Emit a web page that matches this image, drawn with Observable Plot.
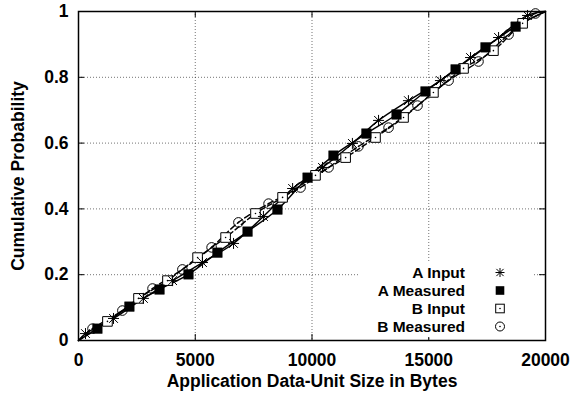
<!DOCTYPE html>
<html>
<head>
<meta charset="utf-8">
<script src="https://cdn.jsdelivr.net/npm/d3@7"></script>
<script src="https://cdn.jsdelivr.net/npm/@observablehq/plot@0.6"></script>
<style>
  html, body { margin: 0; padding: 0; background: #fff; }
  #chart { width: 570px; height: 398px; }
  #chart svg { font-family: "Liberation Sans", Arial, Helvetica, sans-serif; font-weight: bold; }
  #chart svg text { font-weight: bold; }
</style>
</head>
<body>
<div id="chart"></div>
<script>
// ---- data ----
const seriesNames = ["A Input", "A Measured", "B Input", "B Measured"];
const xTicks = [0, 5000, 10000, 15000, 20000];
const yTicks = [0, 0.2, 0.4, 0.6, 0.8, 1];
const xLabel = "Application Data-Unit Size in Bytes";
const yLabel = "Cumulative Probability";

const aInputX = [300, 1500, 2780, 4030, 5310, 6640, 7920, 9170, 10450, 11730, 12850, 14130, 15500, 16790, 17990, 19230];
const aInputY = [0.021, 0.067, 0.128, 0.182, 0.237, 0.295, 0.377, 0.462, 0.526, 0.599, 0.669, 0.729, 0.790, 0.860, 0.921, 0.988];

const aMeasX = [810, 2180, 3470, 4710, 5950, 7240, 8520, 9810, 10920, 12330, 13620, 14860, 16150, 17430, 18720];
const aMeasY = [0.036, 0.103, 0.155, 0.201, 0.267, 0.331, 0.398, 0.495, 0.562, 0.629, 0.687, 0.757, 0.824, 0.891, 0.954];

const bInputX = [1240, 2570, 3810, 5100, 6300, 7580, 8740, 10150, 11440, 12720, 13920, 15200, 16490, 17770, 19020];
const bInputY = [0.058, 0.128, 0.182, 0.252, 0.313, 0.386, 0.435, 0.502, 0.556, 0.617, 0.678, 0.754, 0.827, 0.881, 0.964];

const bMeasX = [600, 1880, 3170, 4450, 5700, 6850, 8140, 9510, 10710, 11990, 13280, 14520, 15850, 17130, 18420, 19570];
const bMeasY = [0.036, 0.091, 0.158, 0.216, 0.283, 0.359, 0.416, 0.465, 0.526, 0.590, 0.647, 0.714, 0.790, 0.848, 0.930, 0.994];

// ---- build tables ----
const seriesXY = [[aInputX, aInputY], [aMeasX, aMeasY], [bInputX, bInputY], [bMeasX, bMeasY]];
const points = [];
const lines = [];
seriesNames.forEach((name, i) => {
  const [xs, ys] = seriesXY[i];
  lines.push({series: name, x: 0, y: 0});
  xs.forEach((x, j) => {
    points.push({series: name, x, y: ys[j]});
    lines.push({series: name, x, y: ys[j]});
  });
  lines.push({series: name, x: 20000, y: 1});
});

// ---- custom gnuplot-like symbols ----
const asterisk = {
  draw(ctx, size) {
    const r = Math.sqrt(size / Math.PI);
    ctx.moveTo(-r, 0); ctx.lineTo(r, 0);
    ctx.moveTo(0, -r); ctx.lineTo(0, r);
    const d = r * 0.8;
    ctx.moveTo(-d, -d); ctx.lineTo(d, d);
    ctx.moveTo(-d, d); ctx.lineTo(d, -d);
  }
};
const square = {
  draw(ctx, size) {
    const r = Math.sqrt(size / Math.PI);
    ctx.rect(-r, -r, 2 * r, 2 * r);
  }
};
const circle = {
  draw(ctx, size) {
    const r = Math.sqrt(size / Math.PI);
    ctx.moveTo(r, 0);
    ctx.arc(0, 0, r, 0, 2 * Math.PI);
  }
};

const lineStyle = {
  "A Input": null,
  "A Measured": null,
  "B Input": "5,3",
  "B Measured": "6,3"
};

const xTickLen = 20000 * 6 / 467;
const yTickLen = 6 / 329;
const fs = 17.5;
const legendFs = 15.5;

const marks = [
  Plot.gridX(xTicks.slice(1, -1), {stroke: "#000", strokeOpacity: 0.55, strokeDasharray: "1,2", strokeWidth: 1}),
  Plot.gridY(yTicks.slice(1, -1), {stroke: "#000", strokeOpacity: 0.55, strokeDasharray: "1,2", strokeWidth: 1}),
  // inward ticks (bottom/top, left/right)
  Plot.ruleX(xTicks, {y1: 0, y2: yTickLen, stroke: "#000"}),
  Plot.ruleX(xTicks, {y1: 1 - yTickLen, y2: 1, stroke: "#000"}),
  Plot.ruleY(yTicks, {x1: 0, x2: xTickLen, stroke: "#000"}),
  Plot.ruleY(yTicks, {x1: 20000 - xTickLen, x2: 20000, stroke: "#000"}),
  Plot.axisX(xTicks, {tickSize: 0, tickPadding: 13, fontSize: fs, tickFormat: d => String(d), label: null}),
  Plot.axisY(yTicks, {tickSize: 0, tickPadding: 10, fontSize: fs, tickFormat: d => String(d), label: null}),
  Plot.text([xLabel], {frameAnchor: "bottom", dy: 46, fontSize: fs, textAnchor: "middle", text: d => d}),
  Plot.text([yLabel], {frameAnchor: "left", dx: -60, rotate: -90, fontSize: fs, textAnchor: "middle", text: d => d})
];

seriesNames.forEach(name => {
  marks.push(Plot.line(lines.filter(d => d.series === name), {
    x: "x", y: "y", curve: "catmull-rom", stroke: "#000", strokeWidth: 1.4,
    strokeDasharray: lineStyle[name]
  }));
});

const pA = points.filter(d => d.series === "A Input");
const pAM = points.filter(d => d.series === "A Measured");
const pB = points.filter(d => d.series === "B Input");
const pBM = points.filter(d => d.series === "B Measured");

marks.push(
  Plot.dot(pB, {x: "x", y: "y", symbol: square, r: 4.8, fill: "#fff", stroke: "#000", strokeWidth: 1}),
  Plot.dot(pB, {x: "x", y: "y", r: 0.8, fill: "#000", stroke: "none"}),
  Plot.dot(pBM, {x: "x", y: "y", symbol: circle, r: 4.8, fill: "#fff", fillOpacity: 0, stroke: "#000", strokeWidth: 1}),
  Plot.dot(pBM, {x: "x", y: "y", r: 0.8, fill: "#000", stroke: "none"}),
  Plot.dot(pAM, {x: "x", y: "y", symbol: square, r: 4.8, fill: "#000", stroke: "#000", strokeWidth: 0.5}),
  Plot.dot(pA, {x: "x", y: "y", symbol: asterisk, r: 5.5, fill: "none", stroke: "#000", strokeWidth: 1}),
  Plot.frame({stroke: "#000", strokeWidth: 1.5})
);

const svg = Plot.plot({
  width: 570,
  height: 398,
  marginLeft: 78,
  marginRight: 25,
  marginTop: 11,
  marginBottom: 58,
  x: {domain: [0, 20000], axis: null},
  y: {domain: [0, 1], axis: null},
  style: {background: "#fff", color: "#000", fontFamily: "'Liberation Sans', Arial, sans-serif"},
  marks
});

// ---- legend (inside plot, bottom right, white box) ----
const s = d3.select(svg);
const lg = s.append("g").attr("class", "legend");
lg.append("rect").attr("x", 358).attr("y", 263).attr("width", 174).attr("height", 74).attr("fill", "#fff");
const rowY = [272.5, 290.5, 308.5, 326.5];
const symX = 500;
seriesNames.forEach((name, i) => {
  lg.append("text").attr("x", 465).attr("y", rowY[i]).attr("dy", "0.36em")
    .attr("text-anchor", "end").attr("font-size", legendFs).attr("font-weight", "bold").attr("fill", "#000").text(name);
});
// symbols
const a = 4.5;
lg.append("path").attr("d", `M${symX - a},${rowY[0]}H${symX + a}M${symX},${rowY[0] - a}V${rowY[0] + a}M${symX - a * 0.8},${rowY[0] - a * 0.8}L${symX + a * 0.8},${rowY[0] + a * 0.8}M${symX - a * 0.8},${rowY[0] + a * 0.8}L${symX + a * 0.8},${rowY[0] - a * 0.8}`)
  .attr("stroke", "#000").attr("fill", "none");
lg.append("rect").attr("x", symX - 4.3).attr("y", rowY[1] - 4.3).attr("width", 8.6).attr("height", 8.6).attr("fill", "#000");
lg.append("rect").attr("x", symX - 4.3).attr("y", rowY[2] - 4.3).attr("width", 8.6).attr("height", 8.6).attr("fill", "#fff").attr("stroke", "#000");
lg.append("circle").attr("cx", symX).attr("cy", rowY[2]).attr("r", 0.8).attr("fill", "#000");
lg.append("circle").attr("cx", symX).attr("cy", rowY[3]).attr("r", 4.5).attr("fill", "#fff").attr("stroke", "#000");
lg.append("circle").attr("cx", symX).attr("cy", rowY[3]).attr("r", 0.8).attr("fill", "#000");

document.getElementById("chart").appendChild(svg);
</script>
</body>
</html>
